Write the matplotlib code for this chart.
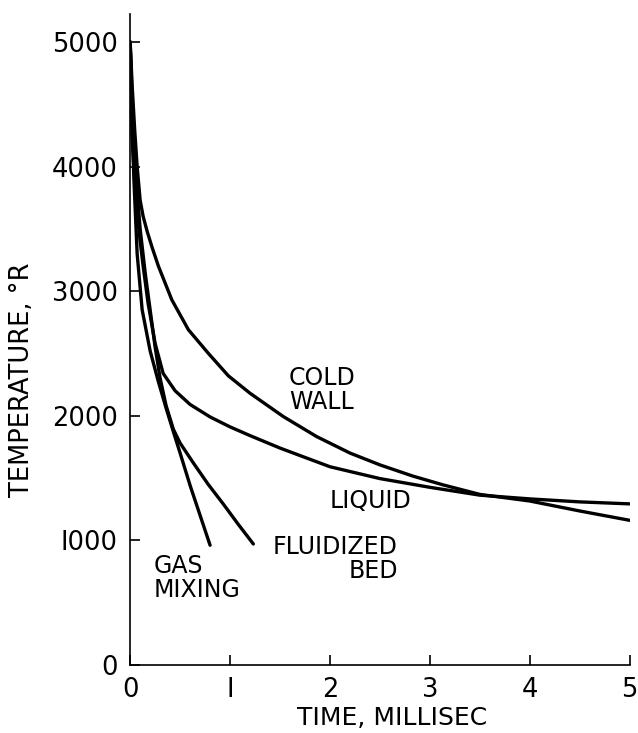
import numpy as np
import matplotlib
matplotlib.use("Agg")
import matplotlib.pyplot as plt

# curves: time (millisec) vs temperature (deg R)
cold_t = [0, 0.02, 0.045, 0.07, 0.1, 0.13, 0.17, 0.22, 0.283, 0.417, 0.583, 0.783, 0.983,
          1.2, 1.533, 1.867, 2.2, 2.5, 2.83, 3.13, 3.5, 4.0, 4.5, 5.0]
cold_T = [5000, 4650, 4300, 4000, 3730, 3600, 3480, 3350, 3200, 2930, 2690, 2500, 2320,
          2180, 1993, 1832, 1700, 1605, 1515, 1445, 1368, 1315, 1235, 1160]

liquid_t = [0, 0.02, 0.05, 0.1, 0.13, 0.18, 0.25, 0.33, 0.45, 0.6, 0.8, 1.0, 1.2, 1.5,
            2.0, 2.5, 3.0, 3.5, 4.0, 4.5, 5.0]
liquid_T = [5000, 4250, 3800, 3400, 3200, 2900, 2580, 2340, 2200, 2090, 1990, 1910, 1840, 1740,
            1590, 1495, 1425, 1362, 1332, 1308, 1292]

fluid_t = [0, 0.03, 0.06, 0.1, 0.15, 0.2, 0.25, 0.3, 0.36, 0.433, 0.5, 0.633, 0.78, 0.933,
           1.08, 1.233]
fluid_T = [5000, 4300, 3900, 3500, 3150, 2850, 2550, 2300, 2080, 1890, 1780, 1620, 1450, 1290,
           1130, 970]

gas_t = [0, 0.02, 0.04, 0.07, 0.12, 0.2, 0.28, 0.36, 0.433, 0.5, 0.6, 0.7, 0.8]
gas_T = [5000, 4300, 3850, 3300, 2850, 2520, 2280, 2060, 1870, 1700, 1440, 1200, 960]

xticks = [0, 1, 2, 3, 4, 5]
xlabels = ["0", "I", "2", "3", "4", "5"]
yticks = [0, 1000, 2000, 3000, 4000, 5000]
ylabels = ["0", "I000", "2000", "3000", "4000", "5000"]

plt.rcParams['font.family'] = ['DejaVu Sans']

fig = plt.figure(figsize=(6.38, 7.33), dpi=100)
ax = fig.add_axes([0.204, 0.093, 0.783, 0.888])

lw = 2.4
for t, T in [(cold_t, cold_T), (liquid_t, liquid_T), (fluid_t, fluid_T), (gas_t, gas_T)]:
    ax.plot(t, T, color='black', lw=lw, solid_capstyle='round', solid_joinstyle='round')

ax.set_xlim(0, 5)
ax.set_ylim(0, 5225)
ax.spines['top'].set_visible(False)
ax.spines['right'].set_visible(False)
for s in ['left', 'bottom']:
    ax.spines[s].set_linewidth(1.2)

ax.set_xticks(xticks)
ax.set_xticklabels(xlabels)
ax.set_yticks(yticks)
ax.set_yticklabels(ylabels)
ax.tick_params(direction='in', length=7, width=1.2, labelsize=18.5, pad=9)

ax.set_xlabel('TIME, MILLISEC', fontsize=18)
ax.xaxis.set_label_coords(0.524, -0.064)
ax.set_ylabel('TEMPERATURE, °R', fontsize=18.5)
ax.yaxis.set_label_coords(-0.19, 0.438)

fs = 17
ax.text(1.92, 2207, 'COLD\nWALL', fontsize=fs, ha='center', va='center', linespacing=1.0)
ax.text(2.41, 1316, 'LIQUID', fontsize=fs, ha='center', va='center')
ax.text(2.68, 1040, 'FLUIDIZED\nBED', fontsize=fs, ha='right', va='top',
        multialignment='right', linespacing=1.0)
ax.text(0.23, 890, 'GAS\nMIXING', fontsize=fs, ha='left', va='top', linespacing=1.0)

fig.savefig('out.png', dpi=100)
